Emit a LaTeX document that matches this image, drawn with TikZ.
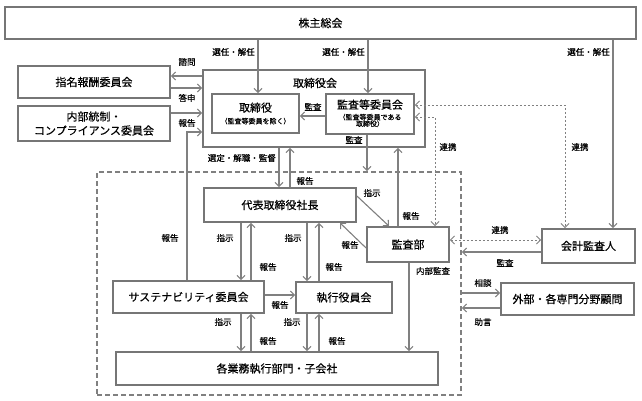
\documentclass[tikz,border=0pt]{standalone}
\usepackage{fontspec}
\newfontfamily\jp[FakeBold=0.45]{Noto Sans CJK JP}
\usetikzlibrary{arrows.meta}
\definecolor{ln}{HTML}{808080}
\definecolor{bx}{HTML}{767676}
\tikzset{
  box/.style={draw=bx, line width=1.8pt, fill=white, rectangle, inner sep=0pt, align=center, font=\jp\fontsize{11}{13}\selectfont},
  arr/.style={draw=ln, line width=1.1pt, -{Straight Barb[length=4pt,width=8pt]}},
  darr/.style={draw=ln, line width=0.9pt, dash pattern=on 2.5pt off 1.5pt, {Straight Barb[length=4pt,width=8pt]}-{Straight Barb[length=4pt,width=8pt]}},
  lbl/.style={inner sep=0pt, font=\jp\fontsize{8.5}{10}\selectfont},
  grpbox/.style={draw=ln, line width=1.6pt, dash pattern=on 5pt off 3pt, rectangle, inner sep=0pt}
}
\begin{document}
\begin{tikzpicture}[x=1pt,y=-1pt]
\useasboundingbox (0,0) rectangle (642,401);
% group dashed box
\node[grpbox, minimum width=364pt, minimum height=223pt] (grp) at (279,283.5) {};
% boxes
\node[box, minimum width=631pt, minimum height=32pt] (sh) at (320.5,23) {株主総会};
\node[box, minimum width=152pt, minimum height=32pt] (nc) at (94,82) {指名報酬委員会};
\node[box, minimum width=152pt, minimum height=35pt, font=\jp\fontsize{11}{14}\selectfont] (ic) at (94,123.5) {内部統制・\\コンプライアンス委員会};
\node[box, minimum width=222pt, minimum height=77pt] (bd) at (314,108.5) {};
\node[inner sep=0pt, font=\jp\fontsize{11}{13}\selectfont] (bdt) at (315,83) {取締役会};
\node[box, minimum width=87pt, minimum height=39pt] (dir) at (255.5,113.5) {取締役\\[-1pt]{\fontsize{7}{8}\selectfont （監査等委員を除く）}};
\node[box, minimum width=88pt, minimum height=40pt] (ac) at (370,114) {監査等委員会\\[-2pt]{\fontsize{7}{7}\selectfont\begin{tabular}[t]{@{}c@{}}（監査等委員である\\[-1.5pt]取締役）\end{tabular}}};
\node[box, minimum width=152pt, minimum height=34pt] (ceo) at (280,205) {代表取締役社長};
\node[box, minimum width=82pt, minimum height=35pt] (ia) at (408,244.5) {監査部};
\node[box, minimum width=93pt, minimum height=34pt] (ea) at (588.5,246) {会計監査人};
\node[box, minimum width=151pt, minimum height=32pt] (sc) at (188.5,297) {サステナビリティ委員会};
\node[box, minimum width=96pt, minimum height=31pt] (eo) at (344,297.5) {執行役員会};
\node[box, minimum width=322pt, minimum height=33pt] (bu) at (277,368.5) {各業務執行部門・子会社};
\node[box, minimum width=133pt, minimum height=32pt] (adv) at (567.5,299) {外部・各専門分野顧問};
% shareholders
\draw[arr] (258,0 |- sh.south) -- (258,0 |- dir.north);
\draw[arr] (368,0 |- sh.south) -- (368,0 |- ac.north);
\draw[arr] (613,0 |- sh.south) -- (613,0 |- ea.north);
\node[lbl, anchor=east] (l1) at (255,52) {選任・解任};
\node[lbl, anchor=east] (l2) at (365,52) {選任・解任};
\node[lbl, anchor=east] (l3) at (610,52) {選任・解任};
% committees
\draw[arr] (bd.west |- 0,76) -- (nc.east |- 0,76);
\node[lbl] (l4) at (187,62) {諮問};
\draw[arr] (nc.east |- 0,88) -- (bd.west |- 0,88);
\node[lbl] (l5) at (187,98) {答申};
\draw[arr] (ic.east |- 0,113) -- (bd.west |- 0,113);
\node[lbl] (l6) at (187,123) {報告};
\draw[arr] (187,0 |- sc.north) -- (187,132) -- (bd.west |- 0,132);
\node[lbl] (l7) at (170,238) {報告};
% inside board
\draw[arr] (ac.west |- 0,116) -- (dir.east |- 0,116);
\node[lbl] (l8) at (313,107) {監査};
\draw[arr] (367,0 |- ac.south) -- (367,0 |- grp.north);
\node[lbl] (l9) at (354,140) {監査};
\draw[arr] (398,0 |- ia.north) -- (398,0 |- bd.south);
\node[lbl] (l10) at (411,216) {報告};
\draw[arr] (279,0 |- bd.south) -- (279,0 |- ceo.north);
\node[lbl, anchor=east] (l11) at (276,158) {選定・解職・監督};
\draw[arr] (290,0 |- ceo.north) -- (290,0 |- bd.south);
\node[lbl] (l12) at (305,181) {報告};
% cooperation dashed
\draw[darr] (ac.east |- 0,105) -- (565,105) -- (565,0 |- ea.north);
\node[lbl] (l13) at (580,147) {連携};
\draw[darr] (ac.east |- 0,117) -- (435,117) -- (435,0 |- ia.north);
\node[lbl] (l14) at (448,147) {連携};
\draw[darr] (ia.east |- 0,240) -- (ea.west |- 0,240);
\node[lbl] (l15) at (500,230) {連携};
\draw[arr] (ea.west |- 0,252) -- (grp.east |- 0,252);
\node[lbl] (l16) at (505,263) {監査};
% president and audit dept
\draw[arr] (ceo.east |- 0,196) -- (389,0 |- ia.north);
\node[lbl] (l17) at (372,193) {指示};
\draw[arr] (ia.west |- 0,248) -- (340,0 |- ceo.south);
\node[lbl] (l18) at (350,245) {報告};
\draw[arr] (409,0 |- ia.south) -- (409,0 |- bu.north);
\node[lbl] (l19) at (433,271) {内部監査};
% president to committees
\draw[arr] (241,0 |- ceo.south) -- (241,0 |- sc.north);
\draw[arr] (251,0 |- sc.north) -- (251,0 |- ceo.south);
\node[lbl] (l20) at (225,238) {指示};
\node[lbl] (l21) at (268,267) {報告};
\draw[arr] (307,0 |- ceo.south) -- (307,0 |- eo.north);
\draw[arr] (319,0 |- eo.north) -- (319,0 |- ceo.south);
\node[lbl] (l22) at (293,238) {指示};
\node[lbl] (l23) at (334,267) {報告};
\draw[arr] (sc.east |- 0,295) -- (eo.west |- 0,295);
\node[lbl] (l24) at (280,305) {報告};
% to business units
\draw[arr] (241,0 |- sc.south) -- (241,0 |- bu.north);
\draw[arr] (251,0 |- bu.north) -- (251,0 |- sc.south);
\node[lbl] (l25) at (223,322) {指示};
\node[lbl] (l26) at (268,341) {報告};
\draw[arr] (307,0 |- eo.south) -- (307,0 |- bu.north);
\draw[arr] (319,0 |- bu.north) -- (319,0 |- eo.south);
\node[lbl] (l27) at (292,322) {指示};
\node[lbl] (l28) at (337,341) {報告};
% advisors
\draw[arr] (grp.east |- 0,293) -- (adv.west |- 0,293);
\node[lbl] (l29) at (483,283) {相談};
\draw[arr] (adv.west |- 0,308) -- (grp.east |- 0,308);
\node[lbl] (l30) at (483,322) {助言};
\end{tikzpicture}
\end{document}
